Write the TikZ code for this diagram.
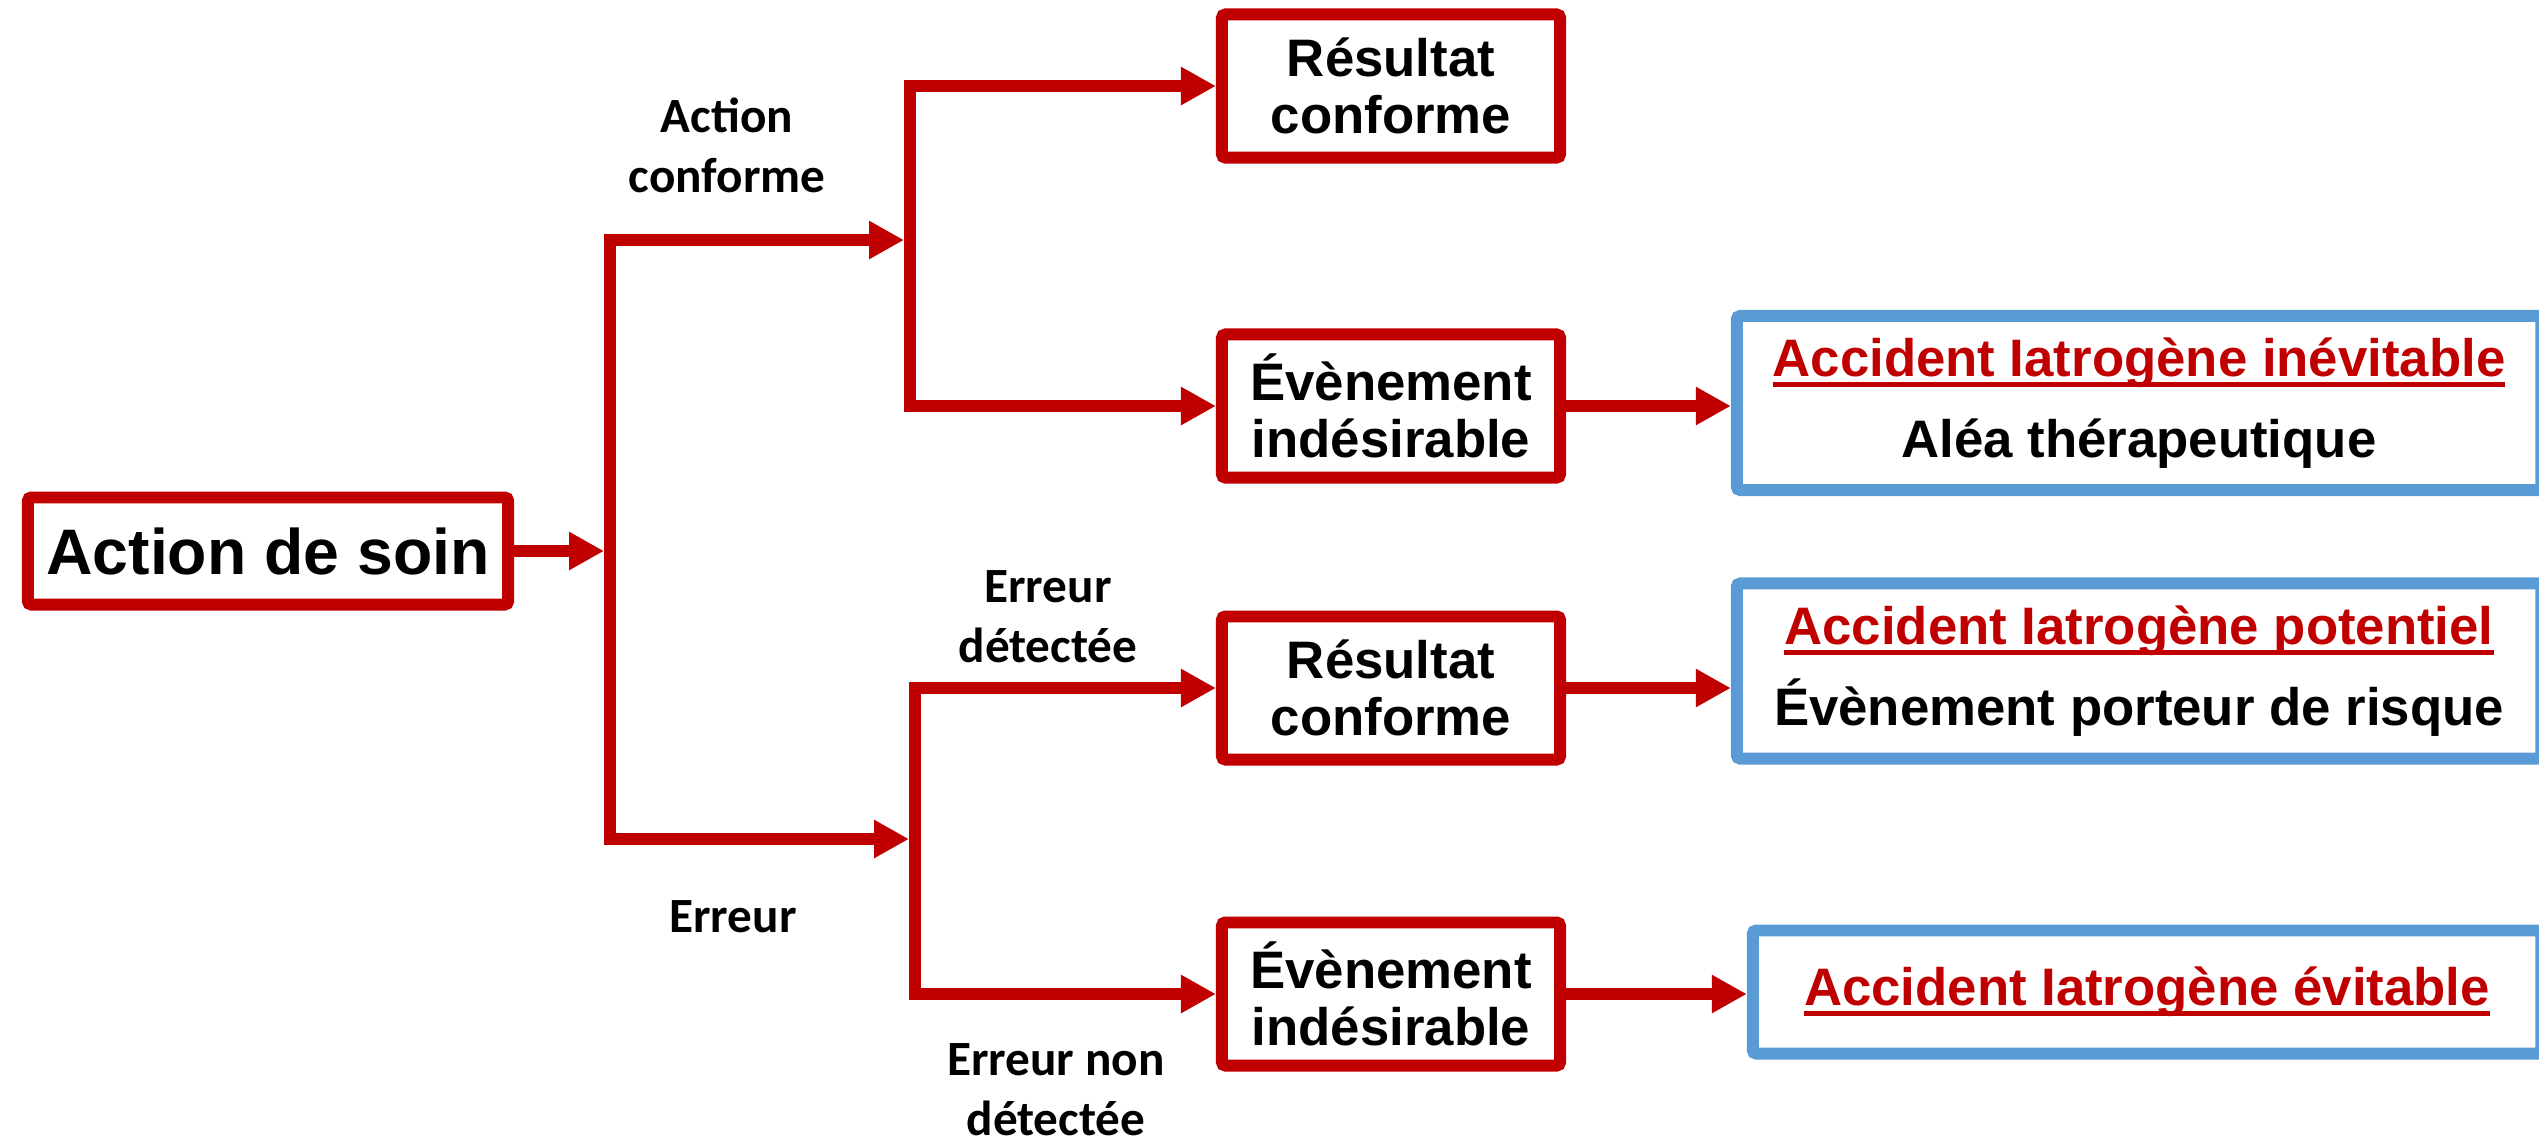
\documentclass[tikz,border=0pt]{standalone}
\usepackage{fontspec}
\setmainfont{Liberation Sans}
\newfontfamily\calib{Carlito}
\usepackage{tikz}
\usetikzlibrary{positioning,arrows.meta}

\definecolor{rouge}{RGB}{192,0,0}
\definecolor{bleu}{RGB}{91,155,213}
\newcommand{\souligne}[1]{\setbox0=\hbox{#1}\rlap{\rule[-3pt]{\wd0}{1.4pt}}\box0}

\begin{document}
\begin{tikzpicture}[x=0.01cm, y=-0.01cm, >={Triangle[length=0.35cm,width=0.36cm]},
    redbox/.style={draw=rouge, line width=3.4pt, rounded corners=1pt, align=center, inner sep=0pt,
        minimum width=3.38cm, minimum height=1.43cm, font=\bfseries\fontsize{15}{16.2}\selectfont},
    bluebox/.style={draw=bleu, line width=3.4pt, rounded corners=1pt, align=center, inner sep=0pt,
        minimum width=8.04cm, font=\bfseries\fontsize{15}{23}\selectfont},
    branchtxt/.style={align=center, inner sep=0pt, font=\calib\bfseries\fontsize{14}{17}\selectfont},
    fleche/.style={->, draw=rouge, fill=rouge, line width=3.4pt},
    barre/.style={draw=rouge, line width=3.4pt, line cap=rect}]
    			\useasboundingbox (0,0) rectangle (2539,1144);
    			
    			\node[redbox, minimum width=4.8cm, minimum height=1.07cm,
    			      font=\bfseries\fontsize{18.3}{20}\selectfont] (soin) at (268,551) {Action de soin};
    			
    			\node[redbox] (res1) at (1391,86) {Résultat\\conforme};
    			\node[redbox] (eve1) at (1391,406) {Évènement\\indésirable};
    			\node[redbox] (res2) at (1391,688) {Résultat\\conforme};
    			\node[redbox] (eve2) at (1391,994) {Évènement\\indésirable};
    			
    			\node[bluebox, minimum height=1.74cm] (ai1) at (2139,403)
    			    {\textcolor{rouge}{\souligne{Accident Iatrogène inévitable}}\\Aléa thérapeutique};
    			\node[bluebox, minimum height=1.75cm] (ai2) at (2139,671)
    			    {\textcolor{rouge}{\souligne{Accident Iatrogène potentiel}}\\Évènement porteur de risque};
    			\node[bluebox, minimum width=7.88cm, minimum height=1.23cm] (ai3) at (2147,992)
    			    {\textcolor{rouge}{\souligne{Accident Iatrogène évitable}}};
    			
    			\coordinate (t1) at (610,240);
    			\coordinate (t2) at (610,839);
    			\coordinate (m1a) at (910,86);
    			\coordinate (m1b) at (910,406);
    			\coordinate (m2a) at (915,688);
    			\coordinate (m2b) at (915,994);
    			
    			\draw[barre] (t1) -- (t2);
    			\draw[barre] (m1a) -- (m1b);
    			\draw[barre] (m2a) -- (m2b);
    			
    			\draw[fleche, shorten >=1.7pt] (soin.east) -- (soin.east -| t1);
    			\draw[fleche, shorten >=1.7pt] (t1) -- (t1 -| m1a);
    			\draw[fleche, shorten >=1.7pt] (t2) -- (t2 -| m2a);
    			
    			\draw[fleche] (m1a) -- (m1a -| res1.west);
    			\draw[fleche] (m1b) -- (m1b -| eve1.west);
    			\draw[fleche] (m2a) -- (m2a -| res2.west);
    			\draw[fleche] (m2b) -- (m2b -| eve2.west);
    			
    			\draw[fleche] (eve1.east) -- (eve1.east -| ai1.west);
    			\draw[fleche] (res2.east) -- (res2.east -| ai2.west);
    			\draw[fleche] (eve2.east) -- (eve2.east -| ai3.west);
    			
    			\node[branchtxt] (lconf) at (727,145) {Action\\conforme};
    			\node[branchtxt] (lerr) at (733,917) {Erreur};
    			\node[branchtxt] (ldet) at (1048,617) {Erreur\\détectée};
    			\node[branchtxt] (lnondet) at (1056,1090) {Erreur non\\détectée};
    		\end{tikzpicture}
\end{document}
